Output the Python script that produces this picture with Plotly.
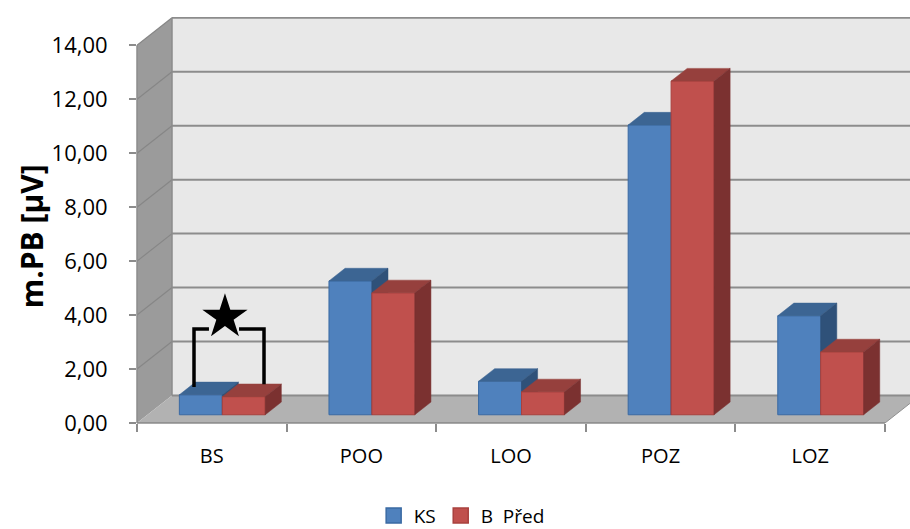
import plotly.graph_objects as go

# ---------------- data ----------------
categories = ["BS", "POO", "LOO", "POZ", "LOZ"]
ks_values = [0.74, 4.96, 1.24, 10.74, 3.67]
b_pred_values = [0.67, 4.52, 0.85, 12.37, 2.33]
series_names = ["KS", "B\u00a0 Před"]
y_tick_values = [0, 2, 4, 6, 8, 10, 12, 14]

# ---------------- style / projection ----------------
DX = 0.234   # wall depth along x (category units)
DY = 1.02    # wall depth along y (value units)
F0 = 0.30    # depth fraction where bar front sits
FD = 0.46    # depth fraction of bar thickness
BW = 0.287   # bar width (category units)
FONT = "Open Sans"

styles = [
    dict(front="#4F81BD", top="#3C6593", side="#2F5179", edge="#3A6AA3"),
    dict(front="#C0504D", top="#96403D", side="#7B3130", edge="#A9413E"),
]

fig = go.Figure()


def poly(xs, ys, fill, line="rgba(0,0,0,0)", width=0):
    fig.add_trace(go.Scatter(x=xs, y=ys, mode="lines", fill="toself", fillcolor=fill,
                             line=dict(color=line, width=width), hoverinfo="skip",
                             showlegend=False))


def seg(xs, ys, color, width):
    fig.add_trace(go.Scatter(x=xs, y=ys, mode="lines", line=dict(color=color, width=width),
                             hoverinfo="skip", showlegend=False))


n = len(categories)
xl0, xr0 = -0.5, n - 0.5

# back wall
poly([xl0 + DX, xr0 + DX, xr0 + DX, xl0 + DX], [DY, DY, 14 + DY, 14 + DY], "#E8E8E8")
# side wall
poly([xl0, xl0, xl0 + DX, xl0 + DX], [0, 14, 14 + DY, DY], "#9B9B9B")
# floor
poly([xl0, xr0, xr0 + DX, xl0 + DX], [0, 0, DY, DY], "#B2B2B2", "#8E8E8E", 1)

# gridlines on back wall and side wall
gx, gy, sx_, sy_ = [], [], [], []
for t in y_tick_values:
    gx += [xl0 + DX, xr0 + DX, None]
    gy += [t + DY, t + DY, None]
    if t > 0:
        sx_ += [xl0, xl0 + DX, None]
        sy_ += [t, t + DY, None]
seg(gx, gy, "#8C8C8C", 2)
seg(sx_, sy_, "#868686", 1.2)
seg([xl0 + DX, xl0 + DX], [DY, 14 + DY], "#8C8C8C", 1.5)

# bars
sx, sy = F0 * DX, F0 * DY
bx, by = FD * DX, FD * DY
for si, vals in enumerate([ks_values, b_pred_values]):
    st = styles[si]
    fx, fy, tx, ty, kx, ky = [], [], [], [], [], []
    for i, v in enumerate(vals):
        x0 = i - BW + si * BW + sx
        x1 = x0 + BW
        yb, yt = sy, sy + v
        fx += [x0, x1, x1, x0, x0, None]
        fy += [yb, yb, yt, yt, yb, None]
        tx += [x0, x1, x1 + bx, x0 + bx, x0, None]
        ty += [yt, yt, yt + by, yt + by, yt, None]
        kx += [x1, x1 + bx, x1 + bx, x1, x1, None]
        ky += [yb, yb + by, yt + by, yt, yb, None]
    poly(fx, fy, st["front"], st["edge"], 1)
    poly(tx, ty, st["top"], st["top"], 0.5)
    poly(kx, ky, st["side"], st["side"], 0.5)

# legend entries
for si, name in enumerate(series_names):
    fig.add_trace(go.Scatter(x=[None], y=[None], mode="markers", name=name,
                             marker=dict(symbol="square", size=15, color=styles[si]["front"],
                                         line=dict(color=styles[si]["edge"], width=1.5))))

# significance bracket and star over BS
bk_x = [-0.119, -0.119, -0.019, None, 0.182, 0.349, 0.349]
bk_y = [1.33, 3.48, 3.48, None, 3.48, 3.48, 1.44]
seg(bk_x, bk_y, "#000000", 3.5)
fig.add_trace(go.Scatter(x=[0.088], y=[3.93], mode="markers", hoverinfo="skip", showlegend=False,
                         marker=dict(symbol="star", size=34, color="#000000")))

fig.update_layout(
    width=910, height=529,
    margin=dict(l=137, r=0, t=17, b=106, autoexpand=False),
    paper_bgcolor="white", plot_bgcolor="white",
    separators=", ",
    font=dict(family=FONT, color="#000000"),
    showlegend=True,
    legend=dict(orientation="h", x=0.42, xanchor="center", y=-0.228, yanchor="middle",
                font=dict(size=19, family=FONT), itemwidth=30, bgcolor="rgba(0,0,0,0)",
                borderwidth=0),
    shapes=[
        dict(type="line", xref="x", yref="paper", x0=xl0, x1=xr0, y0=0, y1=0,
             line=dict(color="#8C8C8C", width=1.5)),
        dict(type="line", xref="paper", yref="y", x0=0, x1=0, y0=0, y1=14,
             line=dict(color="#8C8C8C", width=1.5)),
    ],
    annotations=[
        dict(text="<b>m.PB [µV]</b>", xref="paper", yref="paper", x=(31 - 137) / 773, y=0.46,
             xanchor="center", yanchor="middle", textangle=-90, showarrow=False,
             font=dict(size=30, family=FONT)),
    ],
)

fig.update_xaxes(range=[-0.5, -0.5 + 773 / 149.6], showgrid=False, zeroline=False, showline=False,
                 tickvals=list(range(n)), ticktext=categories, ticks="outside", ticklen=15,
                 tickcolor="rgba(0,0,0,0)", tickfont=dict(size=20, family=FONT),
                 minor=dict(tick0=-0.5, dtick=1, ticks="outside", ticklen=8,
                            tickcolor="#8C8C8C", tickwidth=1.5, showgrid=False),
                 fixedrange=True)
fig.update_yaxes(range=[0, 15.05], showgrid=False, zeroline=False, showline=False,
                 tickvals=y_tick_values, tickformat=".2f", ticks="outside", ticklen=7,
                 tickcolor="#8C8C8C", tickwidth=1.5, ticklabelstandoff=17,
                 tickfont=dict(size=22, family=FONT), fixedrange=True)

fig.write_html("out.html")
